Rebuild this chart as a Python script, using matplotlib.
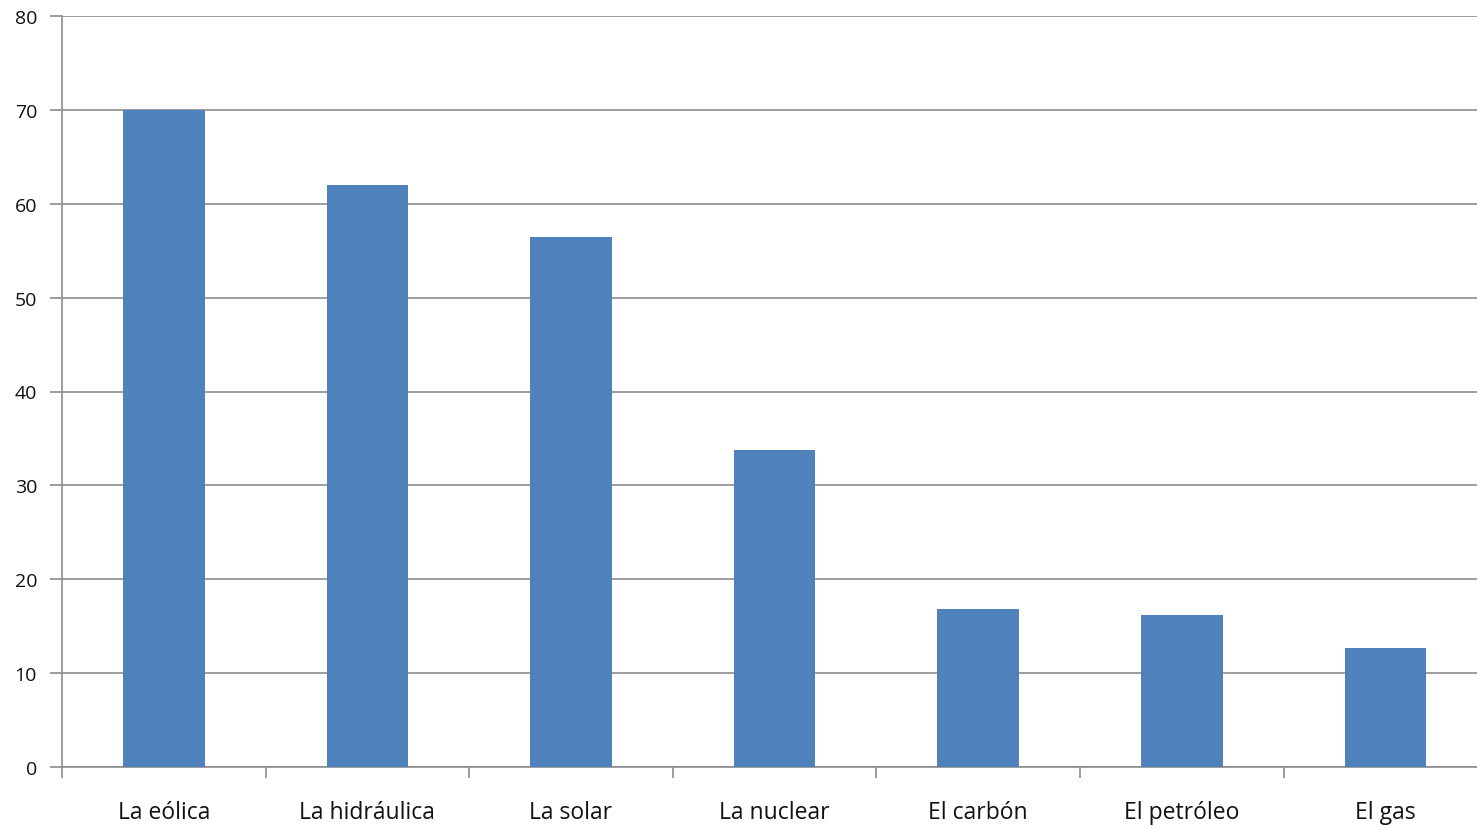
import numpy as np
import matplotlib.pyplot as plt
from matplotlib.ticker import FixedLocator

# datos
categorias = ["La eólica", "La hidráulica", "La solar", "La nuclear",
              "El carbón", "El petróleo", "El gas"]
valores = [70, 62, 56.5, 33.8, 16.8, 16.2, 12.7]
y_ticks = [0, 10, 20, 30, 40, 50, 60, 70, 80]

W, H = 1477, 829
fig = plt.figure(figsize=(W / 100, H / 100), dpi=100)
ax = fig.add_axes([62 / W, 61 / H, (W - 62) / W, (768 - 17) / H])

x = np.arange(len(categorias))
ax.bar(x, valores, width=0.4, color="#4F81BD", zorder=3)

ax.set_ylim(0, 80)
ax.set_xlim(-0.5, 6.45)
ax.set_yticks(y_ticks)
ax.set_yticklabels([str(v) for v in y_ticks], fontsize=14, color="#111111",
                   family="Open Sans")
ax.grid(axis="y", color="#8c8c8c", linewidth=1.2, zorder=0)

ax.set_xticks(x)
ax.set_xticklabels(categorias, fontsize=16.5, color="#111111", family="Open Sans")
ax.xaxis.set_minor_locator(FixedLocator(np.arange(-0.5, 6.5, 1.0)))
ax.tick_params(axis="x", which="major", length=0, pad=24)
ax.tick_params(axis="x", which="minor", length=8, width=1.2, color="#8c8c8c")
ax.tick_params(axis="y", length=9, width=1.2, color="#8c8c8c", pad=9)

for s in ["top", "right"]:
    ax.spines[s].set_visible(False)
for s in ["left", "bottom"]:
    ax.spines[s].set_color("#8c8c8c")
    ax.spines[s].set_linewidth(1.2)

fig.savefig("out.png", dpi=100)
